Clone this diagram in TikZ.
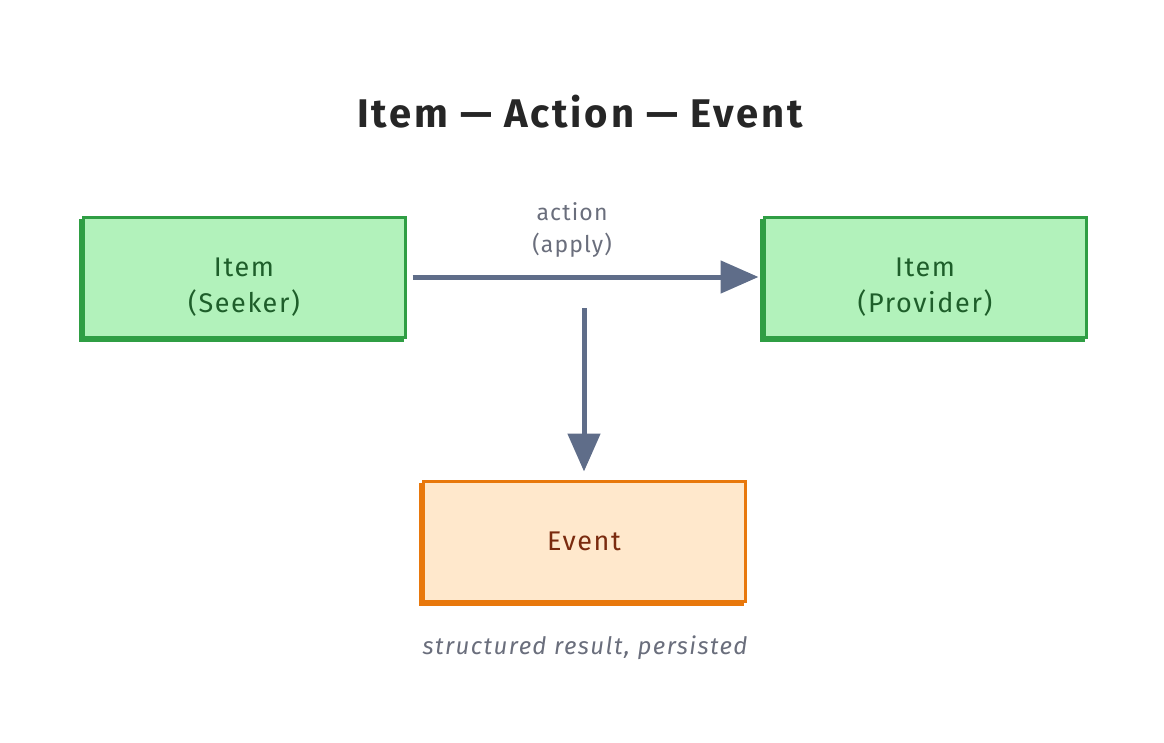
\documentclass[tikz,border=0pt]{standalone}
\usepackage{fontspec}
\setmainfont{Fira Sans}
\usetikzlibrary{positioning,arrows.meta,shadows}

\definecolor{itemfill}{HTML}{B2F2BB}
\definecolor{itemline}{HTML}{2F9E44}
\definecolor{itemtext}{HTML}{1E5E2A}
\definecolor{eventfill}{HTML}{FFE8CC}
\definecolor{eventline}{HTML}{E8780C}
\definecolor{eventtext}{HTML}{7A2A0E}
\definecolor{arrline}{HTML}{5F6D89}
\definecolor{notetext}{HTML}{6A6E7C}

\tikzset{
  sketchbox/.style={line width=3pt, minimum width=322pt, minimum height=120pt, align=center,
    copy shadow={shadow xshift=-3pt, shadow yshift=-3pt},
    font=\fontsize{27}{36}\selectfont\addfontfeature{LetterSpace=6}},
  itembox/.style={sketchbox, draw=itemline, fill=itemfill, text=itemtext, text height=78pt, text depth=7pt},
  eventbox/.style={sketchbox, draw=eventline, fill=eventfill, text=eventtext},
  note/.style={align=center, text=notetext, font=\fontsize{23}{32}\selectfont\addfontfeature{LetterSpace=5}},
  arr/.style={draw=arrline, line width=5pt, -{Triangle[length=38pt,width=32pt]}},
}

\begin{document}
\begin{tikzpicture}[x=1pt,y=-1pt]
  \useasboundingbox (0,0) rectangle (1164,742);
  \node[font=\bfseries\fontsize{40}{44}\selectfont\addfontfeature{LetterSpace=7}, text=black!85] (title) at (580,112) {Item — Action — Event};
  \node[itembox] (seeker) at (244,277) {Item\\(Seeker)};
  \node[itembox] (provider) at (925,277) {Item\\(Provider)};
  \node[eventbox] (event) at (584,541) {Event};
  \node[note] (act) at (572,230) {action\\(apply)};
  \node[note, font=\itshape\fontsize{24}{28}\selectfont\addfontfeature{LetterSpace=6}] (cap) at (585,648) {structured result, persisted};
  \coordinate (fork) at (584,308);

  \draw[arr, shorten <=6pt, shorten >=4pt] (seeker) -- (provider);
  \draw[arr, shorten >=8pt] (fork) -- (event);
\end{tikzpicture}
\end{document}
